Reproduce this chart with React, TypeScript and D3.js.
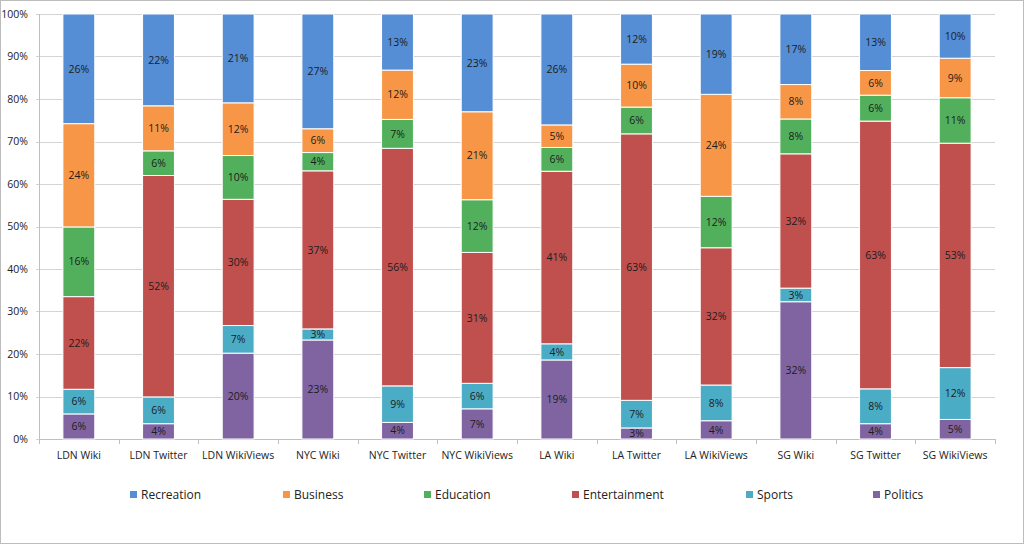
import React from "react";
import * as d3 from "d3";

const categories = [
  "LDN Wiki", "LDN Twitter", "LDN WikiViews", "NYC Wiki", "NYC Twitter", "NYC WikiViews",
  "LA Wiki", "LA Twitter", "LA WikiViews", "SG Wiki", "SG Twitter", "SG WikiViews",
];
// stacked bottom-up
const politics = [5.9, 3.6, 20.2, 23.3, 3.9, 7.1, 18.6, 2.6, 4.3, 32.3, 3.6, 4.6];
const sports = [5.8, 6.3, 6.5, 2.6, 8.6, 6.0, 3.8, 6.5, 8.4, 3.2, 8.2, 12.2];
const entertainment = [21.8, 52.1, 29.7, 37.2, 55.9, 30.8, 40.6, 62.7, 32.3, 31.6, 63.0, 52.8];
const education = [16.4, 5.8, 10.3, 4.3, 6.8, 12.4, 5.6, 6.3, 12.1, 8.2, 6.1, 10.7];
const business = [24.3, 10.6, 12.4, 5.6, 11.6, 20.7, 5.3, 10.1, 24.0, 8.1, 5.8, 9.3];
const recreation = [25.8, 21.6, 20.9, 27.0, 13.2, 23.0, 26.1, 11.8, 18.9, 16.6, 13.3, 10.4];

const seriesNames = ["Politics", "Sports", "Entertainment", "Education", "Business", "Recreation"];
const seriesValues = [politics, sports, entertainment, education, business, recreation];
const seriesColors = ["#8064A2", "#4BACC6", "#C0504D", "#52B05C", "#F79646", "#558ED5"];
const legendOrder = ["Recreation", "Business", "Education", "Entertainment", "Sports", "Politics"];
const legendX = [130, 283, 424, 572, 746, 873];
const yTicks = [0, 10, 20, 30, 40, 50, 60, 70, 80, 90, 100];

const W = 1024, H = 544;
const left = 39, right = 995, top = 14, bottom = 439;
const FONT = "'Open Sans', 'Liberation Sans', sans-serif";

export default function App() {
  const x = d3.scaleBand<string>().domain(categories).range([left, right]).paddingInner(0.6).paddingOuter(0.3);
  const y = d3.scaleLinear().domain([0, 100]).range([bottom, top]);

  const rows = categories.map((c, i) => {
    const r: any = { cat: c };
    seriesNames.forEach((s, k) => (r[s] = seriesValues[k][i]));
    return r;
  });
  const stacked = d3.stack<any>().keys(seriesNames)(rows);
  const step = x.step();

  return (
    <div style={{ position: "absolute", left: 0, top: 0 }}>
      <svg width={W} height={H} style={{ display: "block" }}>
        <rect x={0.5} y={0.5} width={W - 1} height={H - 1} fill="#ffffff" stroke="#bdbdbd" strokeWidth={1} />
        {yTicks.map((t) => (
          <g key={t}>
            <line x1={left - 3} x2={right} y1={Math.round(y(t)) + 0.5} y2={Math.round(y(t)) + 0.5} stroke="#d4d4d4" strokeWidth={1} />
            <text x={28} y={y(t)} dy="0.35em" textAnchor="end" fontFamily={FONT} fontSize={10.5} fill="#222">
              {t}%
            </text>
          </g>
        ))}
        <line x1={left + 0.5} x2={left + 0.5} y1={top} y2={bottom} stroke="#bfbfbf" />
        <line x1={left} x2={right} y1={bottom + 0.5} y2={bottom + 0.5} stroke="#bfbfbf" />
        {d3.range(categories.length + 1).map((i) => (
          <line key={i} x1={Math.round(left + i * step) + 0.5} x2={Math.round(left + i * step) + 0.5} y1={bottom} y2={bottom + 5} stroke="#bfbfbf" />
        ))}
        {stacked.map((layer, k) => (
          <g key={layer.key}>
            {layer.map((d, i) => {
              const x0 = x(categories[i])!;
              const y0 = y(d[1]);
              const h = y(d[0]) - y(d[1]);
              return (
                <g key={i}>
                  <rect x={x0} y={y0} width={x.bandwidth()} height={h} fill={seriesColors[k]} stroke="#ffffff" strokeWidth={1} />
                  <text x={x0 + x.bandwidth() / 2} y={y0 + h / 2} dy="0.35em" textAnchor="middle" fontFamily={FONT} fontSize={10.5} fill="#1c1c1c">
                    {Math.round(d[1] - d[0])}%
                  </text>
                </g>
              );
            })}
          </g>
        ))}
        {categories.map((c) => (
          <text key={c} x={x(c)! + x.bandwidth() / 2} y={455} dy="0.35em" textAnchor="middle" fontFamily={FONT} fontSize={10.5} fill="#222">
            {c}
          </text>
        ))}
        {legendOrder.map((name, i) => {
          const k = seriesNames.indexOf(name);
          return (
            <g key={name} transform={`translate(${legendX[i]},495)`}>
              <rect x={0} y={-4} width={7} height={7} fill={seriesColors[k]} />
              <text x={11} y={0} dy="0.35em" fontFamily={FONT} fontSize={12} fill="#222">
                {name}
              </text>
            </g>
          );
        })}
      </svg>
    </div>
  );
}
